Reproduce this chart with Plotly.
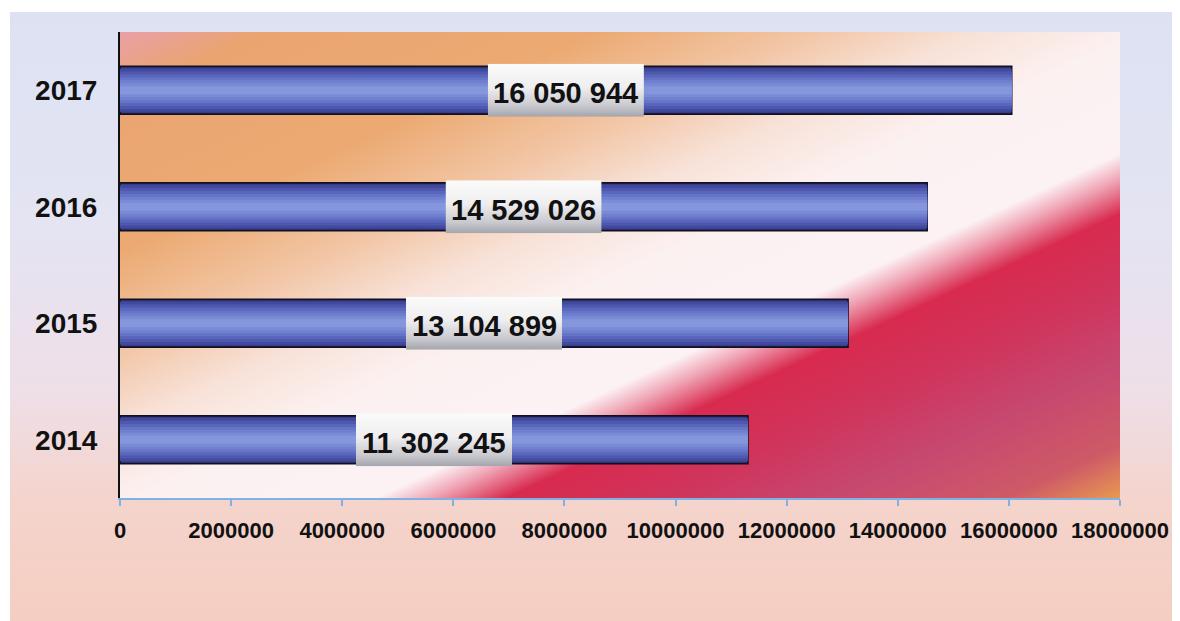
import base64
import plotly.graph_objects as go

# ---- data ----
years = ["2014", "2015", "2016", "2017"]
values = [11302245, 13104899, 14529026, 16050944]
x_ticks = [0, 2000000, 4000000, 6000000, 8000000, 10000000, 12000000, 14000000, 16000000, 18000000]

FONT = "Liberation Sans, Arial, sans-serif"
# page body has an 8px margin -> figure sized/positioned to compensate
W, H = 1172, 613
ML, MT = 112, 24
PW, PH = 1000, 466
MR, MB = W - ML - PW, H - MT - PH


def svg_uri(svg):
    return "data:image/svg+xml;base64," + base64.b64encode(svg.encode()).decode()


def stops(lst):
    return "".join(f"<stop offset='{o}' stop-color='{c}'/>" for o, c in lst)


# paper background (vertical lavender -> peach)
paper_svg = (
    "<svg xmlns='http://www.w3.org/2000/svg' width='100' height='100' viewBox='0 0 100 100' preserveAspectRatio='none'>"
    "<defs><linearGradient id='g' x1='0' y1='0' x2='0' y2='1'>"
    + stops([(0, "#dde2f3"), (0.35, "#e4e4f2"), (0.62, "#eedfe8"), (0.8, "#f4d4cc"), (1, "#f5cec2")])
    + "</linearGradient></defs><rect width='100' height='100' fill='url(#g)'/></svg>"
)

# plot-area background (diagonal pink/orange -> white -> red/magenta -> orange)
L = 843.0
ux, uy = 0.42, 0.908
pa = [(0, "#e9a0a8"), (60, "#eaa470"), (200, "#ecaa72"), (290, "#f2c6a6"), (360, "#f8e2d8"),
      (430, "#fcf1f1"), (530, "#fcf2f4"), (552, "#f0a8b8"), (585, "#d82a4e"), (650, "#d0345c"),
      (720, "#c64870"), (795, "#ce5a66"), (843, "#e89a50")]
plot_svg = (
    f"<svg xmlns='http://www.w3.org/2000/svg' width='{PW}' height='{PH}' viewBox='0 0 {PW} {PH}' preserveAspectRatio='none'>"
    f"<defs><linearGradient id='g' gradientUnits='userSpaceOnUse' x1='0' y1='0' x2='{ux*L:.1f}' y2='{uy*L:.1f}'>"
    + stops([(round(t / L, 4), c) for t, c in pa])
    + f"</linearGradient></defs><rect width='{PW}' height='{PH}' fill='url(#g)'/></svg>"
)

label_svg = (
    "<svg xmlns='http://www.w3.org/2000/svg' width='100' height='100' viewBox='0 0 100 100' preserveAspectRatio='none'>"
    "<defs><linearGradient id='g' x1='0' y1='0' x2='0' y2='1'>"
    + stops([(0, "#fbfbfb"), (0.45, "#eeeef0"), (0.8, "#c8c8ce"), (1, "#a4a4ac")])
    + "</linearGradient></defs><rect width='100' height='100' fill='url(#g)'/></svg>"
)

fig = go.Figure()

# cylinder-like bars: stacked overlay layers
layers = [(0.41, "#383c8a", 1.6), (0.37, "#424a9e", 0), (0.32, "#4d58ae", 0), (0.27, "#5966bc", 0),
          (0.22, "#6574c6", 0), (0.17, "#7080cf", 0), (0.12, "#7a8bd6", 0), (0.07, "#8596dc", 0)]
for w, col, lw in layers:
    fig.add_trace(go.Bar(
        y=years, x=values, orientation="h", width=w,
        marker=dict(color=col, line=dict(color="#101020", width=lw)),
        hoverinfo="skip", showlegend=False,
    ))

images = [
    dict(source=svg_uri(paper_svg), xref="paper", yref="paper",
         x=(2 - ML) / PW, y=(MT + PH - 4) / PH, sizex=(W - 2) / PW, sizey=(H - 4) / PH,
         xanchor="left", yanchor="top", sizing="stretch", layer="below"),
    dict(source=svg_uri(plot_svg), xref="paper", yref="paper",
         x=0, y=1, sizex=1, sizey=1, xanchor="left", yanchor="top", sizing="stretch", layer="below"),
]

box_w = 2.81e6
box_h = 53 / PH
annotations = []
for i, (yr, v) in enumerate(zip(years, values)):
    images.append(dict(source=svg_uri(label_svg), xref="x", yref="paper",
                       x=v / 2, y=(i + 0.5) / len(years), sizex=box_w, sizey=box_h,
                       xanchor="center", yanchor="middle", sizing="stretch", layer="above"))
    annotations.append(dict(x=v / 2, y=i, xref="x", yref="y", text=f"{v:,}".replace(",", " "),
                            showarrow=False, yshift=-3,
                            font=dict(family=FONT, size=29, color="#111111", weight="bold")))

fig.update_layout(
    width=W, height=H,
    margin=dict(l=ML, r=MR, t=MT, b=MB, pad=0),
    paper_bgcolor="white",
    plot_bgcolor="rgba(0,0,0,0)",
    barmode="overlay",
    images=images,
    annotations=annotations,
    xaxis=dict(range=[0, 18000000], tickvals=x_ticks, tickformat="d",
               showgrid=False, zeroline=False, showline=True, linecolor="#7fb2e2", linewidth=2,
               ticks="outside", ticklen=6, tickwidth=1.5, tickcolor="#7fb2e2",
               ticklabelstandoff=6,
               tickfont=dict(family=FONT, size=22, color="#111111", weight="bold")),
    yaxis=dict(type="category", categoryorder="array", categoryarray=years, range=[-0.5, 3.5],
               showgrid=False, zeroline=False, showline=True, linecolor="#111111", linewidth=2,
               ticks="", ticklabelstandoff=15,
               tickfont=dict(family=FONT, size=28, color="#111111", weight="bold")),
)

fig.write_html("out.html")
